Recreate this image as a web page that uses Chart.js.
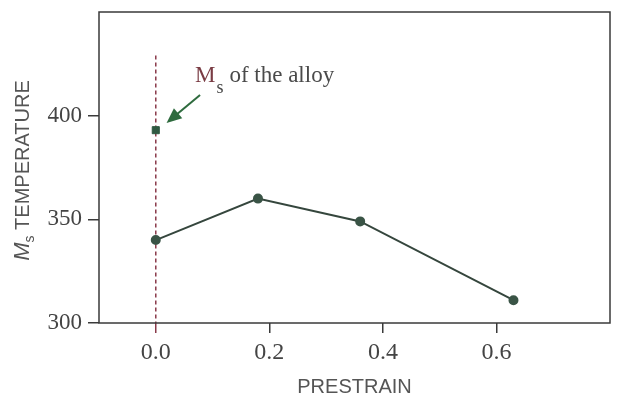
<!DOCTYPE html>
<html>
<head>
<meta charset="utf-8">
<script src="https://cdn.jsdelivr.net/npm/chart.js@4.4.1/dist/chart.umd.min.js"></script>
<style>
  html, body { margin: 0; padding: 0; background: #fff; }
  #wrap { width: 618px; height: 399px; }
</style>
</head>
<body>
<div id="wrap"><canvas id="chart" width="618" height="399"></canvas></div>
<script>
// values
const prestrain = [0.0, 0.18, 0.36, 0.63];
const msTemp = [340, 360, 349, 311];
const alloyPrestrain = [0.0];
const alloyMs = [393];
const markerLineX = [0.0, 0.0];
const markerLineY = [429, 300];
const xTicks = [0.0, 0.2, 0.4, 0.6];
const yTicks = [300, 350, 400];

const serif = "'Liberation Serif', 'DejaVu Serif', serif";
const sans = "'Liberation Sans', Arial, sans-serif";
const axisColor = "#3a3a3a";

// frame, y title with italic M + subscript, and the "Ms of the alloy" callout
const decorations = {
  id: "decorations",
  afterDraw(chart) {
    const { ctx, chartArea: a, scales } = chart;
    ctx.save();
    ctx.strokeStyle = axisColor;
    ctx.lineWidth = 1.5;
    ctx.strokeRect(a.left, a.top, a.right - a.left, a.bottom - a.top);

    // y axis title
    ctx.translate(23, (a.top + a.bottom) / 2 + 3);
    ctx.rotate(-Math.PI / 2);
    ctx.fillStyle = "#555";
    ctx.textBaseline = "middle";
    ctx.font = "italic 22px " + sans;
    const mW = ctx.measureText("M").width;
    ctx.font = "20px " + sans;
    const rest = " TEMPERATURE";
    const restW = ctx.measureText(rest).width;
    ctx.font = "14px " + sans;
    const sW = ctx.measureText("s").width;
    let x0 = -(mW + sW + restW) / 2;
    ctx.font = "italic 22px " + sans;
    ctx.textAlign = "left";
    ctx.fillText("M", x0, 0);
    ctx.font = "14px " + sans;
    ctx.fillText("s", x0 + mW, 7);
    ctx.font = "20px " + sans;
    ctx.fillText(rest, x0 + mW + sW, 0);
    ctx.restore();

    // callout
    const xs = scales.x, ys = scales.y;
    const tx = xs.getPixelForValue(0.069);
    const ty = ys.getPixelForValue(416);
    ctx.save();
    ctx.textBaseline = "alphabetic";
    ctx.textAlign = "left";
    ctx.font = "23px " + serif;
    ctx.fillStyle = "#7a3c44";
    ctx.fillText("M", tx, ty);
    const mw = ctx.measureText("M").width;
    ctx.font = "18px " + serif;
    ctx.fillStyle = "#4a4a4a";
    ctx.fillText("s", tx + mw + 1, ty + 11);
    ctx.font = "23px " + serif;
    ctx.fillText("of the alloy", tx + mw + 14, ty);

    // arrow
    const x1 = xs.getPixelForValue(0.078), y1 = ys.getPixelForValue(410);
    const x2 = xs.getPixelForValue(0.019), y2 = ys.getPixelForValue(396.5);
    const ang = Math.atan2(y2 - y1, x2 - x1);
    ctx.strokeStyle = "#2e6b3e";
    ctx.fillStyle = "#2e6b3e";
    ctx.lineWidth = 2;
    ctx.beginPath();
    ctx.moveTo(x1, y1);
    ctx.lineTo(x2 - 8 * Math.cos(ang), y2 - 8 * Math.sin(ang));
    ctx.stroke();
    ctx.beginPath();
    ctx.moveTo(x2, y2);
    ctx.lineTo(x2 - 15 * Math.cos(ang) + 6.5 * Math.sin(ang), y2 - 15 * Math.sin(ang) - 6.5 * Math.cos(ang));
    ctx.lineTo(x2 - 15 * Math.cos(ang) - 6.5 * Math.sin(ang), y2 - 15 * Math.sin(ang) + 6.5 * Math.cos(ang));
    ctx.closePath();
    ctx.fill();
    ctx.restore();
  },
};

const config = {
  type: "scatter",
  data: {
    datasets: [
      {
        label: "Ms line",
        data: markerLineX.map((x, i) => ({ x: x, y: markerLineY[i] })),
        showLine: true,
        borderColor: "#8a3a4a",
        borderWidth: 1.5,
        borderDash: [4, 3],
        pointRadius: 0,
        order: 3,
      },
      {
        label: "Ms vs prestrain",
        data: prestrain.map((x, i) => ({ x: x, y: msTemp[i] })),
        showLine: true,
        borderColor: "#35463d",
        borderWidth: 2,
        pointRadius: 4,
        pointBackgroundColor: "#3a5446",
        pointBorderColor: "#3a5446",
        order: 1,
      },
      {
        label: "alloy",
        data: alloyPrestrain.map((x, i) => ({ x: x, y: alloyMs[i] })),
        pointStyle: "rect",
        pointRadius: 5,
        pointBackgroundColor: "#2f5a42",
        pointBorderColor: "#2f5a42",
        order: 0,
      },
    ],
  },
  options: {
    responsive: false,
    animation: false,
    layout: { padding: { top: 12, right: 8, left: 0, bottom: 0 } },
    plugins: {
      legend: { display: false },
      tooltip: { enabled: false },
    },
    scales: {
      x: {
        type: "linear",
        min: -0.1,
        max: 0.8,
        afterBuildTicks: (axis) => {
          axis.ticks = xTicks.map((v) => ({ value: v }));
        },
        afterFit: (axis) => {
          axis.height = 76;
          axis.paddingLeft = 0;
          axis.paddingRight = 0;
        },
        ticks: {
          font: { family: serif, size: 24 },
          color: "#444",
          padding: 5,
          maxRotation: 0,
          callback: (v) => v.toFixed(1),
        },
        grid: {
          drawOnChartArea: false,
          drawTicks: true,
          tickLength: 10,
          color: (c) => (c.tick && c.tick.value === 0 ? "#8a3a4a" : axisColor),
          lineWidth: 1.5,
        },
        border: { display: false },
        title: {
          display: true,
          text: "PRESTRAIN",
          font: { family: sans, size: 20 },
          color: "#555",
          padding: { top: 6, bottom: 0 },
        },
      },
      y: {
        type: "linear",
        min: 300,
        max: 450,
        afterBuildTicks: (axis) => {
          axis.ticks = yTicks.map((v) => ({ value: v }));
        },
        afterFit: (axis) => {
          axis.width = 99;
          axis.paddingTop = 0;
          axis.paddingBottom = 0;
        },
        ticks: {
          font: { family: serif, size: 23 },
          color: "#444",
          padding: 6,
        },
        grid: {
          drawOnChartArea: false,
          drawTicks: true,
          tickLength: 11,
          color: axisColor,
          lineWidth: 1.5,
        },
        border: { display: false },
      },
    },
  },
  plugins: [decorations],
};

const ctx = document.getElementById("chart");
window.myChart = new Chart(ctx, config);
</script>
</body>
</html>
